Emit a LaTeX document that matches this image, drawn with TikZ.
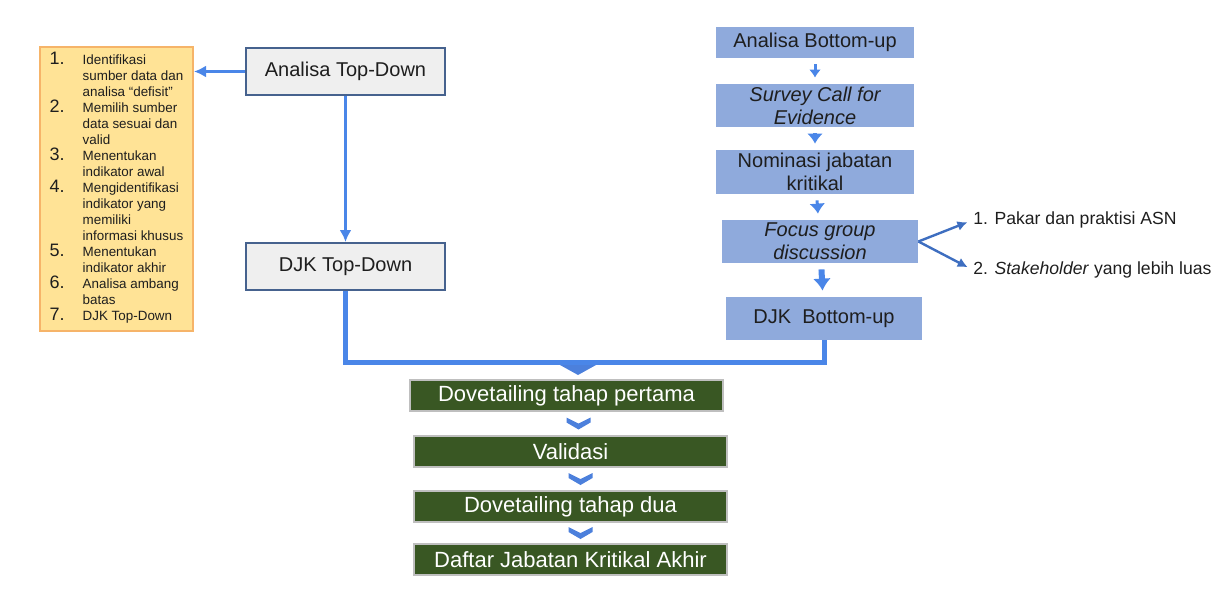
\documentclass[tikz,border=0pt]{standalone}
\usepackage{fontspec}
\setmainfont{Liberation Sans}
\usepackage{tikz}
\usepackage{color}
\usetikzlibrary{arrows.meta}
\usetikzlibrary{calc}
\definecolor{flowblue}{RGB}{74,134,232}
\definecolor{forkblue}{RGB}{62,110,192}
\definecolor{bublue}{RGB}{143,170,220}
\definecolor{tdgray}{RGB}{239,239,239}
\definecolor{tdborder}{RGB}{70,98,142}
\definecolor{listyellow}{RGB}{255,227,150}
\definecolor{listborder}{RGB}{246,180,105}
\definecolor{dkgreen}{RGB}{57,87,35}
\definecolor{chevblue}{RGB}{76,128,220}
\definecolor{ink}{RGB}{30,30,30}
\tikzset{every picture/.style={x=0.5pt,y=-0.5pt},
  tdbox/.style={draw=tdborder,fill=tdgray,line width=1pt,minimum width=99.5pt,minimum height=23.5pt,text=ink,font=\fontsize{10}{12}\selectfont},
  bubox/.style={fill=bublue,minimum width=99pt,align=center,inner sep=1pt,text=ink,font=\fontsize{10}{11.5}\selectfont},
  greenbox/.style={fill=dkgreen,draw=black!25,line width=0.6pt,minimum width=156.5pt,minimum height=15.5pt,inner sep=1pt,text=white,font=\fontsize{11}{13}\selectfont},
  listbox/.style={fill=listyellow,draw=listborder,line width=1pt,minimum width=76.5pt,minimum height=142pt,inner sep=0pt,text=ink},
  flow/.style={flowblue,line width=1.5pt,-{Latex[length=6pt,width=6pt]}},
  stepflow/.style={flowblue,line width=2.2pt,-{Latex[length=5pt,width=8pt]},shorten <=3pt,shorten >=3pt},
  fork/.style={forkblue,line width=1.2pt,-{Latex[length=5pt,width=5pt]},shorten >=3pt},
  joinline/.style={flowblue,line width=2.5pt},
  chev/.pic={\fill[chevblue] (-12,-6) -- (0,0) -- (12,-6) -- (12,-1) -- (0,6) -- (-12,-1) -- cycle;}}
\newcommand\itemno[1]{\smash{\fontsize{9}{8}\selectfont #1}}

\begin{document}
\begin{tikzpicture}
\useasboundingbox (0,0) rectangle (1230,599);

% top-down branch
\node (atd) at (345.5,71.5) [tdbox] {Analisa Top-Down};
\node (djktd) at (345.5,266.5) [tdbox] {DJK Top-Down};
\node (steps) at (116.5,189) [listbox] {\fontsize{6.7}{8}\selectfont
\begin{tabular}{@{}p{16.5pt}@{}l@{}}
\itemno{1.} & Identifikasi\\
 & sumber data dan\\
 & analisa “defisit”\\
\itemno{2.} & Memilih sumber\\
 & data sesuai dan\\
 & valid\\
\itemno{3.} & Menentukan\\
 & indikator awal\\
\itemno{4.} & Mengidentifikasi\\
 & indikator yang\\
 & memiliki\\
 & informasi khusus\\
\itemno{5.} & Menentukan\\
 & indikator akhir\\
\itemno{6.} & Analisa ambang\\
 & batas\\
\itemno{7.} & DJK Top-Down
\end{tabular}};
\draw[flow] (atd.west) -- (steps.east |- atd.west);
\draw[flow] (atd) -- (djktd);

% bottom-up branch
\node (abu) at (815,42.5) [bubox,minimum height=15.5pt] {Analisa Bottom-up};
\node (survey) at (815,105.5) [bubox,minimum height=21.5pt] {\itshape Survey Call for\\\itshape Evidence};
\node (nomin) at (815,172) [bubox,minimum height=22pt] {Nominasi jabatan\\kritikal};
\node (fgd) at (820,241.5) [bubox,minimum width=98pt,minimum height=21.5pt] {\itshape Focus group\\\itshape discussion};
\node (djkbu) at (824,318.5) [bubox,minimum width=98pt,minimum height=21.5pt] {DJK\ \ Bottom-up};
\draw[stepflow,line width=1.5pt,-{Latex[length=4pt,width=6pt]}] (abu) -- (survey);
\draw[stepflow] (survey) -- (nomin);
\draw[stepflow,line width=1.5pt] (nomin) -- (fgd);
\draw[stepflow,line width=3pt,-{Latex[length=6pt,width=9pt]}] (fgd) -- (djkbu);

\node (pakar) at (973,220) [anchor=west,inner sep=0pt,text=ink,font=\fontsize{8.8}{10}\selectfont] {1. Pakar dan praktisi ASN};
\node (stake) at (973,270) [anchor=west,inner sep=0pt,text=ink,font=\fontsize{8.8}{10}\selectfont] {2. \textit{Stakeholder} yang lebih luas};
\draw[fork] (fgd.east) -- (pakar.west);
\draw[fork] (fgd.east) -- (stake.west);

% dovetailing
\coordinate (join) at (578,362);
\draw[joinline] (djktd.south) |- (join) -| (djkbu.south);
\fill[chevblue] ($(join)+(-18,3)$) -- ($(join)+(18,3)$) -- ($(join)+(0,13)$) -- cycle;

\node (dv1) at (566.5,395.5) [greenbox] {Dovetailing tahap pertama};
\node (valid) at (570.5,451.5) [greenbox] {Validasi};
\node (dv2) at (570.5,506.5) [greenbox] {Dovetailing tahap dua};
\node (final) at (570.5,559.5) [greenbox] {Daftar Jabatan Kritikal Akhir};
\pic at ($(dv1.south)!0.5!(valid.north)+(10,0)$) {chev};
\pic at ($(valid.south)!0.5!(dv2.north)+(10,0)$) {chev};
\pic at ($(dv2.south)!0.5!(final.north)+(10,0)$) {chev};
\end{tikzpicture}
\end{document}
